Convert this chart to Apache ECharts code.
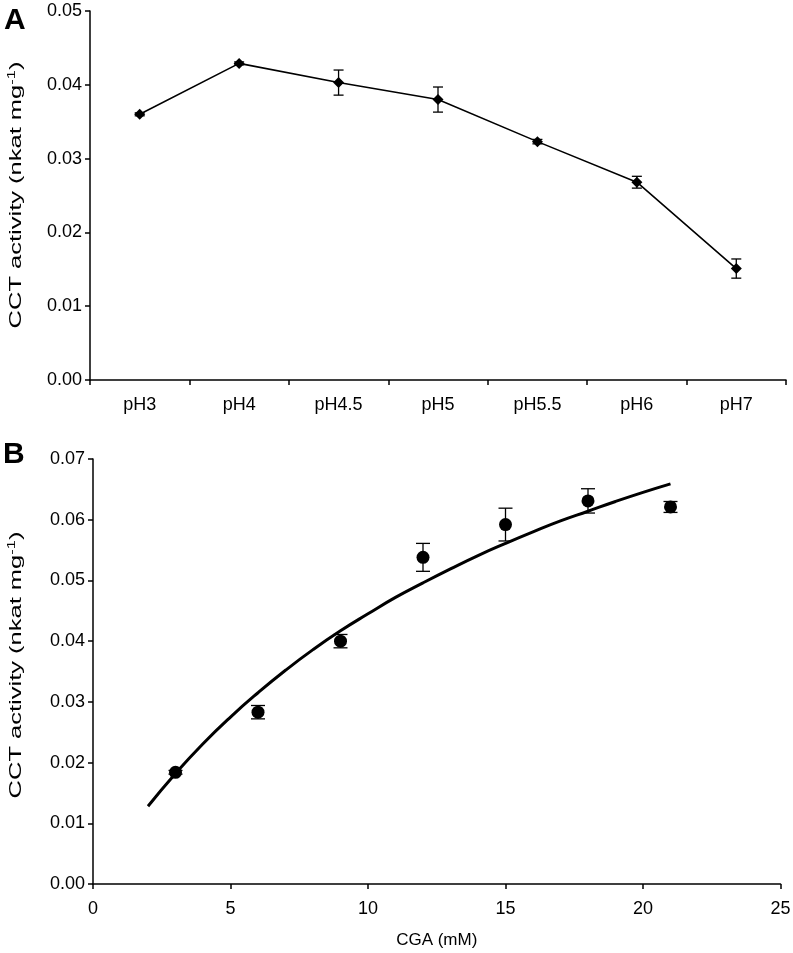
<!DOCTYPE html>
<html>
<head>
<meta charset="utf-8">
<script src="https://cdn.jsdelivr.net/npm/echarts@6/dist/echarts.min.js"></script>
<style>
html,body{margin:0;padding:0;background:#fff;}
#chart{width:793px;height:953px;}
</style>
</head>
<body>
<div id="chart"></div>
<script>
// Panel A data
const phCategories = ['pH3','pH4','pH4.5','pH5','pH5.5','pH6','pH7'];
const phActivity = [0.0360, 0.0429, 0.0403, 0.0380, 0.0323, 0.0268, 0.0151];
const phError = [0.0002, 0.0002, 0.0017, 0.0017, 0.0003, 0.0008, 0.0013];

// Panel B data
const cgaConc = [3, 6, 9, 12, 15, 18, 21];
const cgaActivity = [0.0184, 0.0283, 0.0400, 0.0538, 0.0592, 0.0631, 0.0621];
const cgaError = [0.0003, 0.0011, 0.0011, 0.0023, 0.0027, 0.0020, 0.0009];

// Fitted curve
const fitX = [2, 3, 4, 5, 6, 7, 8, 9, 10, 11, 12, 13, 14, 15, 16, 17, 18, 19, 20, 21];
const fitY = [0.0128, 0.0182, 0.0231, 0.0275, 0.0315, 0.0352, 0.0386, 0.0417, 0.0445, 0.0472,
              0.0496, 0.0519, 0.0541, 0.0561, 0.0580, 0.0598, 0.0614, 0.0630, 0.0645, 0.0659];

const yTitle = 'CCT activity (nkat mg{sup|-1})';
const xTitleB = 'CGA (mM)';

const FONT = '"Liberation Sans", Arial, sans-serif';
const chart = echarts.init(document.getElementById('chart'), null, {renderer: 'canvas'});

function errRender(capHalf) {
  return function (params, api) {
    const x = api.value(0), lo = api.value(1), hi = api.value(2);
    const pLo = api.coord([x, lo]);
    const pHi = api.coord([x, hi]);
    const st = {stroke: '#000', lineWidth: 1.3};
    return {
      type: 'group',
      children: [
        {type: 'line', shape: {x1: pLo[0], y1: pLo[1], x2: pHi[0], y2: pHi[1]}, style: st},
        {type: 'line', shape: {x1: pLo[0] - capHalf, y1: pLo[1], x2: pLo[0] + capHalf, y2: pLo[1]}, style: st},
        {type: 'line', shape: {x1: pHi[0] - capHalf, y1: pHi[1], x2: pHi[0] + capHalf, y2: pHi[1]}, style: st}
      ]
    };
  };
}

const axisLine = {show: true, lineStyle: {color: '#000', width: 1.5}};
const axisTick = {show: true, length: 5, inside: false, lineStyle: {color: '#000', width: 1.5}};
const labelStyle = {color: '#000', fontSize: 18, fontFamily: FONT};
const richSup = {sup: {fontSize: 11, fontFamily: FONT, fill: '#000', color: '#000', verticalAlign: 'top', lineHeight: 20, padding: [0, 0, 8, 0]}};

function yTitleGraphic(cy) {
  return {
    type: 'text', x: 16, y: cy, rotation: Math.PI / 2, scaleX: 1.5,
    style: {
      text: yTitle, font: '17px ' + FONT, fill: '#000',
      align: 'center', verticalAlign: 'middle', lineHeight: 20,
      rich: richSup
    }
  };
}

const option = {
  backgroundColor: '#fff',
  animation: false,
  textStyle: {fontFamily: FONT},
  graphic: [
    {type: 'text', x: 4, y: 6, style: {text: 'A', font: 'bold 30px ' + FONT, fill: '#000'}},
    {type: 'text', x: 3, y: 440, style: {text: 'B', font: 'bold 30px ' + FONT, fill: '#000'}},
    yTitleGraphic(195),
    yTitleGraphic(665)
  ],
  grid: [
    {left: 90, top: 11, width: 696, height: 369, outerBoundsMode: 'none', containLabel: false},
    {left: 93, top: 459, width: 687.5, height: 425, outerBoundsMode: 'none', containLabel: false}
  ],
  xAxis: [
    {
      gridIndex: 0, type: 'category', data: phCategories, boundaryGap: true,
      axisLine: axisLine, axisTick: axisTick,
      axisLabel: Object.assign({}, labelStyle, {margin: 16}),
      splitLine: {show: false}
    },
    {
      gridIndex: 1, type: 'value', min: 0, max: 25, interval: 5,
      axisLine: axisLine, axisTick: axisTick,
      axisLabel: Object.assign({}, labelStyle, {margin: 16}),
      splitLine: {show: false},
      name: xTitleB, nameLocation: 'middle', nameGap: 48,
      nameTextStyle: {color: '#000', fontSize: 17, fontFamily: FONT}
    }
  ],
  yAxis: [
    {
      gridIndex: 0, type: 'value', min: 0, max: 0.05, interval: 0.01,
      axisLine: axisLine, axisTick: axisTick,
      axisLabel: Object.assign({}, labelStyle, {margin: 8, formatter: v => v.toFixed(2)}),
      splitLine: {show: false}
    },
    {
      gridIndex: 1, type: 'value', min: 0, max: 0.07, interval: 0.01,
      axisLine: axisLine, axisTick: axisTick,
      axisLabel: Object.assign({}, labelStyle, {margin: 8, formatter: v => v.toFixed(2)}),
      splitLine: {show: false}
    }
  ],
  series: [
    {
      type: 'line', xAxisIndex: 0, yAxisIndex: 0,
      data: phActivity,
      symbol: 'diamond', symbolSize: 11,
      itemStyle: {color: '#000', opacity: 1},
      lineStyle: {color: '#000', width: 1.6},
      z: 3
    },
    {
      type: 'custom', xAxisIndex: 0, yAxisIndex: 0,
      renderItem: errRender(5),
      data: phActivity.map((v, i) => [i, v - phError[i], v + phError[i]]),
      z: 4
    },
    {
      type: 'line', xAxisIndex: 1, yAxisIndex: 1,
      data: fitX.map((x, i) => [x, fitY[i]]),
      smooth: true, showSymbol: false, symbol: 'none',
      lineStyle: {color: '#000', width: 3},
      z: 2
    },
    {
      type: 'scatter', xAxisIndex: 1, yAxisIndex: 1,
      data: cgaConc.map((x, i) => [x, cgaActivity[i]]),
      symbol: 'circle', symbolSize: 13,
      itemStyle: {color: '#000', opacity: 1},
      z: 3
    },
    {
      type: 'custom', xAxisIndex: 1, yAxisIndex: 1,
      renderItem: errRender(7),
      data: cgaConc.map((x, i) => [x, cgaActivity[i] - cgaError[i], cgaActivity[i] + cgaError[i]]),
      z: 4
    }
  ]
};
chart.setOption(option);
</script>
</body>
</html>
